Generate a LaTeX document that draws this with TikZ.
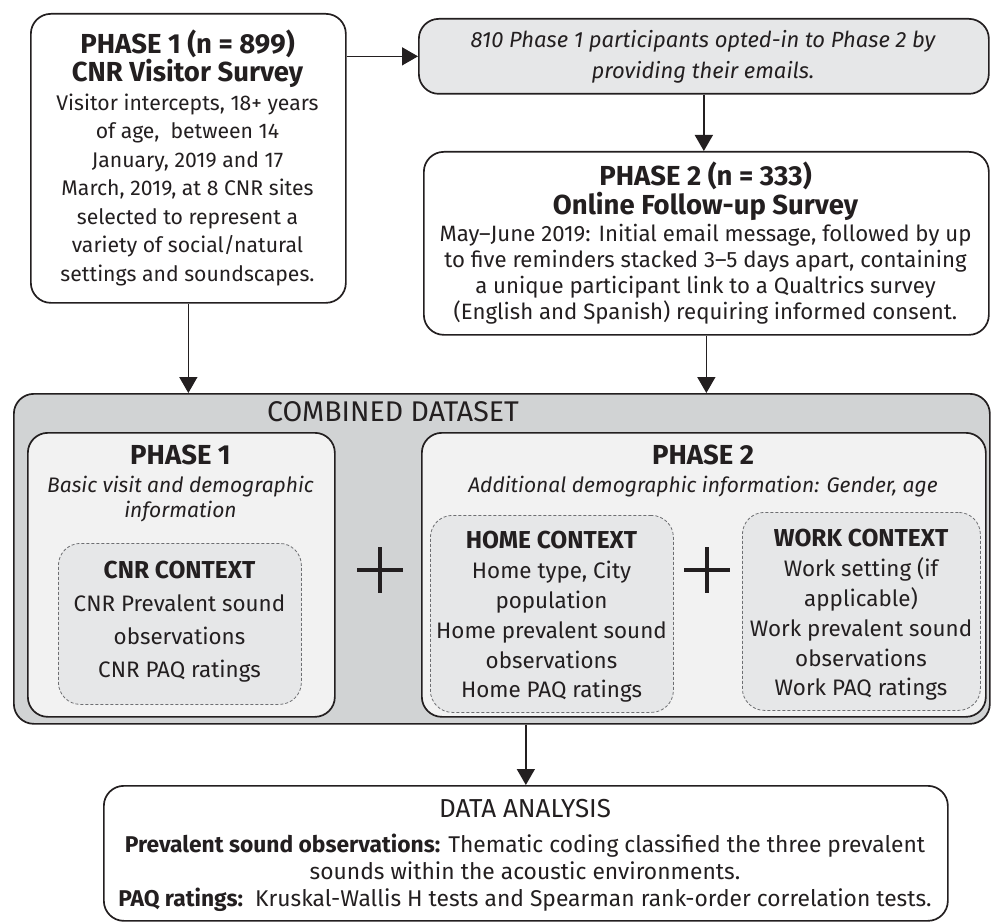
\documentclass[tikz,border=0pt]{standalone}
\usepackage{fontspec}
\setmainfont{Fira Sans}
\usetikzlibrary{arrows.meta}
\definecolor{ink}{HTML}{231F20}
\definecolor{optfill}{HTML}{E6E7E8}
\definecolor{combfill}{HTML}{D1D3D4}
\definecolor{innerfill}{HTML}{F2F2F2}
\definecolor{ctxfill}{HTML}{E6E7E8}
\definecolor{dashc}{HTML}{6D6E71}
\newcommand{\ttlA}[1]{{\fontsize{27.5}{28}\selectfont\bfseries #1}}
\newcommand{\ctxttl}[1]{{\fontsize{24.5}{30}\selectfont\bfseries #1}}
\tikzset{
  box/.style={draw=ink, line width=1.7pt, rounded corners=20pt, inner sep=0pt, anchor=north west},
  ctxbox/.style={draw=dashc, line width=0.8pt, dash pattern=on 3pt off 2pt, rounded corners=22pt, inner sep=0pt, anchor=north west, fill=ctxfill},
  txt/.style={align=center, inner sep=0pt, text=ink},
  arr/.style={draw=ink, line width=1.5pt, -{Triangle[length=16pt,width=18pt]}},
  plussign/.style={draw=ink, line width=4.5pt}
}
\begin{document}
\begin{tikzpicture}[x=1pt,y=-1pt]
\useasboundingbox (0,0) rectangle (991,923);
% top boxes
\node[box, fill=white, minimum width=315pt, minimum height=289pt] (p1) at (30,13) {};
\node[txt, font=\fontsize{21.2}{28.5}\selectfont] (p1t) at (187.5,157.5) {\ttlA{PHASE 1 (n = 899)}\\ \ttlA{CNR Visitor Survey}\\ Visitor intercepts, 18+ years\\ of age,\ \ between 14\\ January, 2019 and 17\\ March, 2019, at 8 CNR sites\\ selected to represent a\\ variety of social/natural\\ settings and soundscapes.};
\node[box, fill=optfill, minimum width=570pt, minimum height=75pt] (optin) at (418,18) {};
\node[txt, font=\fontsize{22}{31}\selectfont\itshape] (optint) at (703,56.5) {810 Phase 1 participants opted-in to Phase 2 by\\ providing their emails.};
\node[box, fill=white, minimum width=565pt, minimum height=183pt] (ph2) at (423,151) {};
\node[txt, font=\fontsize{22.2}{26}\selectfont] (ph2t) at (705.5,243) {\ttlA{PHASE 2 (n = 333)}\\[1pt] \ttlA{Online Follow-up Survey}\\[1pt] May--June 2019: Initial email message, followed by up\\ to five reminders stacked 3--5 days apart, containing\\ a unique participant link to a Qualtrics survey\\ (English and Spanish) requiring informed consent.};
% combined dataset
\node[box, fill=combfill, minimum width=976pt, minimum height=330pt] (comb) at (13,393) {};
\node[txt, font=\fontsize{28.5}{30}\selectfont] (combt) at (393,412) {COMBINED DATASET};
\node[box, fill=innerfill, minimum width=307pt, minimum height=284pt] (in1) at (27,432) {};
\node[txt, font=\fontsize{27.5}{30}\selectfont\bfseries] (in1t) at (180.5,455) {PHASE 1};
\node[txt, font=\fontsize{21}{25}\selectfont\itshape] (in1s) at (180.5,499.5) {Basic visit and demographic\\ information};
\node[ctxbox, minimum width=243pt, minimum height=161pt] (cnr) at (58,543) {};
\node[txt, font=\fontsize{22.4}{33}\selectfont] (cnrt) at (179.5,622) {\ctxttl{CNR CONTEXT}\\ CNR Prevalent sound\\ observations\\ CNR PAQ ratings};
\draw[plussign] (357,570) -- (403,570) (380,547) -- (380,593);
\node[box, fill=innerfill, minimum width=564pt, minimum height=284pt] (in2) at (421,432) {};
\node[txt, font=\fontsize{27.5}{30}\selectfont\bfseries] (in2t) at (703,455) {PHASE 2};
\node[txt, font=\fontsize{21}{25}\selectfont\itshape] (in2s) at (703,487) {Additional demographic information: Gender, age};
\node[ctxbox, minimum width=243pt, minimum height=197pt] (home) at (430,515) {};
\node[txt, font=\fontsize{22.4}{29.8}\selectfont] (homet) at (551.5,617) {\ctxttl{HOME CONTEXT}\\ Home type, City\\ population\\ Home prevalent sound\\ observations\\ Home PAQ ratings};
\draw[plussign] (684,570) -- (730,570) (707,547) -- (707,593);
\node[ctxbox, minimum width=238pt, minimum height=198pt] (work) at (742,512) {};
\node[txt, font=\fontsize{22.4}{29.8}\selectfont] (workt) at (861,615) {\ctxttl{WORK CONTEXT}\\ Work setting (if\\ applicable)\\ Work prevalent sound\\ observations\\ Work PAQ ratings};
% data analysis
\node[box, fill=white, minimum width=844pt, minimum height=135pt] (data) at (103,785) {};
\node[txt, font=\fontsize{26}{28}\selectfont] (datat) at (525,809) {DATA ANALYSIS};
\node[txt, font=\fontsize{22.8}{27}\selectfont] (data1) at (525,857) {\textbf{Prevalent sound observations:} Thematic coding classified the three prevalent\\ sounds within the acoustic environments.};
\node[txt, font=\fontsize{22.8}{27}\selectfont] (data2) at (525,900) {\textbf{PAQ ratings:}\ \ Kruskal-Wallis H tests and Spearman rank-order correlation tests.};
% connectors
\draw[arr] (optin.west -| p1.east) -- (optin.west);
\draw[arr] (optin.south) -- (optin.south |- ph2.north);
\draw[arr] (p1.south) -- (p1.south |- comb.north);
\draw[arr] (ph2.south) -- (ph2.south |- comb.north);
\draw[arr] (comb.south -| data.north) -- (data.north);
\end{tikzpicture}
\end{document}
